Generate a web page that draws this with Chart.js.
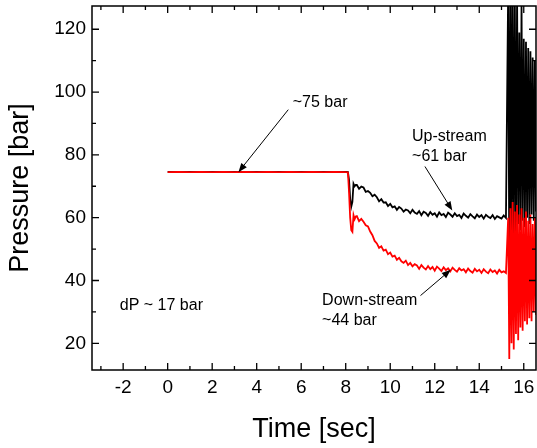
<!DOCTYPE html>
<html>
<head>
<meta charset="utf-8">
<script src="https://cdn.jsdelivr.net/npm/chart.js@4"></script>
<style>
  html, body { margin: 0; padding: 0; background: #fff; }
  #wrap { width: 537px; height: 448px; }
</style>
</head>
<body>
<div id="wrap"><canvas id="chart-1" width="537" height="448"></canvas></div>
<script>
// time axis shared by both pressure traces [sec]
const timeSec = [
  0, 0.5, 1.0, 1.5, 2.0, 2.5, 3.0, 3.5, 4.0, 4.5, 5.0, 5.5, 6.0, 6.5, 7.0, 7.5, 8.0, 8.1,
  8.15, 8.2, 8.25, 8.3, 8.35, 8.4, 8.45,
  8.5, 8.6, 8.7, 8.8, 8.9, 9.0, 9.1, 9.2, 9.3, 9.4, 9.5, 9.6, 9.7, 9.8, 9.9,
  10.0, 10.1, 10.2, 10.3, 10.4, 10.5, 10.6, 10.7, 10.8, 10.9,
  11.0, 11.1, 11.2, 11.3, 11.4, 11.5, 11.6, 11.7, 11.8, 11.9,
  12.0, 12.1, 12.2, 12.3, 12.4, 12.5, 12.6, 12.7, 12.8, 12.9,
  13.0, 13.1, 13.2, 13.3, 13.4, 13.5, 13.6, 13.7, 13.8, 13.9,
  14.0, 14.1, 14.2, 14.3, 14.4, 14.5, 14.6, 14.7, 14.8, 14.9,
  15.0, 15.1, 15.2,
  15.3, 15.35, 15.4, 15.45, 15.5, 15.55, 15.6, 15.65, 15.7, 15.75,
  15.8, 15.85, 15.9, 15.95, 16.0, 16.05, 16.1, 16.15, 16.2, 16.25,
  16.3, 16.35, 16.4, 16.45, 16.5, 16.55, 16.6
];

// up-stream pressure [bar]
const upStream = [
  74.6, 74.5, 74.6, 74.5, 74.6, 74.5, 74.6, 74.5, 74.6, 74.5, 74.6, 74.5, 74.6, 74.5, 74.6, 74.5, 74.6, 74.5,
  72.0, 66.0, 63.5, 65.0, 70.8, 70.0, 70.4,
  70.4, 69.2, 69.9, 69.6, 68.2, 68.5, 67.9, 66.8, 67.3, 66.5, 65.2, 65.9, 64.8, 64.9, 63.7,
  64.4, 63.3, 63.6, 62.5, 63.4, 62.9, 61.9, 62.6, 62.3, 61.4,
  62.5, 61.6, 61.2, 62.1, 60.8, 61.9, 61.5, 60.6, 61.8, 60.9,
  61.4, 60.3, 61.7, 60.8, 61.2, 60.2, 61.6, 61.0, 60.3, 61.4,
  60.5, 60.9, 59.9, 61.3, 60.6, 60.0, 61.1, 60.4, 59.8, 61.0,
  60.2, 60.8, 59.7, 60.9, 60.3, 59.9, 60.8, 59.6, 60.5, 60.1,
  59.7, 60.7, 59.9,
  133, 44, 140, 48, 136, 52, 129, 55, 131, 58,
  119, 56, 128, 59, 117, 57, 116, 60, 114, 58,
  113, 61, 111, 59, 110, 62, 109
];

// down-stream pressure [bar]
const downStream = [
  74.5, 74.6, 74.5, 74.6, 74.5, 74.6, 74.5, 74.6, 74.5, 74.6, 74.5, 74.6, 74.5, 74.6, 74.5, 74.6, 74.5, 74.4,
  68.0, 60.0, 56.0, 55.5, 60.8, 59.5, 60.4,
  60.5, 58.9, 59.6, 58.7, 57.6, 57.2, 55.6, 54.4, 52.6, 51.8, 50.4, 50.9, 49.5, 49.8, 48.4,
  48.9, 47.6, 47.9, 46.6, 47.2, 46.1, 45.6, 46.3, 44.9, 45.6,
  44.5, 45.2, 44.8, 43.7, 44.9, 44.1, 43.5, 44.6, 43.6, 44.3,
  43.1, 44.4, 43.8, 43.0, 44.2, 43.3, 43.9, 42.9, 44.1, 43.4,
  42.8, 43.9, 43.2, 43.6, 42.6, 43.8, 43.0, 42.5, 43.7, 42.9,
  43.4, 42.4, 43.6, 42.8, 42.3, 43.5, 42.7, 43.2, 42.2, 43.4,
  42.6, 42.9, 42.4,
  60, 15, 63, 20, 65, 18, 62, 23, 64, 21,
  61, 25, 63, 24, 60, 27, 62, 26, 59, 28,
  61, 27, 58, 30, 60, 29, 57
];

// axis ticks
const xTicks = [-2, 0, 2, 4, 6, 8, 10, 12, 14, 16];
const xMinorTicks = [-3, -1, 1, 3, 5, 7, 9, 11, 13, 15];
const yTicks = [20, 40, 60, 80, 100, 120];
const yMinorTicks = [30, 50, 70, 90, 110];

// text notes with arrows (data coordinates)
const notes = [
  { lines: ['~75 bar'], x: 5.62, y: 96.6, tail: [5.42, 94.4], head: [3.18, 74.5] },
  { lines: ['Up-stream', '~61 bar'], x: 10.98, y: 85.9, tail: [11.56, 76.3], head: [12.79, 62.3] },
  { lines: ['Down-stream', '~44 bar'], x: 6.94, y: 33.6, tail: [11.36, 35.2], head: [12.72, 43.4] },
  { lines: ['dP ~ 17 bar'], x: -2.15, y: 32.0 }
];

const FONT = "'Liberation Sans', Arial, sans-serif";

// closed frame, inward ticks on all sides, tick labels
const frameTicks = {
  id: 'frameTicks',
  afterDraw(chart) {
    const { ctx, chartArea: a, scales: { x, y } } = chart;
    ctx.save();
    ctx.strokeStyle = '#000';
    ctx.lineWidth = 1.5;
    ctx.strokeRect(a.left, a.top, a.right - a.left, a.bottom - a.top);
    ctx.lineWidth = 1.3;
    ctx.beginPath();
    const xt = (v, len) => {
      const px = x.getPixelForValue(v);
      ctx.moveTo(px, a.bottom); ctx.lineTo(px, a.bottom - len);
      ctx.moveTo(px, a.top); ctx.lineTo(px, a.top + len);
    };
    const yt = (v, len) => {
      const py = y.getPixelForValue(v);
      ctx.moveTo(a.left, py); ctx.lineTo(a.left + len, py);
      ctx.moveTo(a.right, py); ctx.lineTo(a.right - len, py);
    };
    xTicks.forEach(v => xt(v, 7));
    xMinorTicks.forEach(v => xt(v, 4));
    yTicks.forEach(v => yt(v, 7));
    yMinorTicks.forEach(v => yt(v, 4));
    ctx.stroke();

    ctx.fillStyle = '#000';
    ctx.font = '19px ' + FONT;
    ctx.textBaseline = 'middle';
    ctx.textAlign = 'center';
    xTicks.forEach(v => ctx.fillText(String(v), x.getPixelForValue(v), a.bottom + 18));
    ctx.textAlign = 'right';
    yTicks.forEach(v => ctx.fillText(String(v), a.left - 6, y.getPixelForValue(v)));
    ctx.restore();
  }
};

const noteLayer = {
  id: 'noteLayer',
  afterDraw(chart) {
    const { ctx, scales: { x, y } } = chart;
    ctx.save();
    ctx.fillStyle = '#000';
    ctx.strokeStyle = '#000';
    ctx.font = '16px ' + FONT;
    ctx.textBaseline = 'middle';
    notes.forEach(n => {
      const px = x.getPixelForValue(n.x);
      const py = y.getPixelForValue(n.y);
      n.lines.forEach((t, i) => ctx.fillText(t, px, py + i * 20.5));
      if (n.head) {
        const x0 = x.getPixelForValue(n.tail[0]), y0 = y.getPixelForValue(n.tail[1]);
        const x1 = x.getPixelForValue(n.head[0]), y1 = y.getPixelForValue(n.head[1]);
        const ang = Math.atan2(y1 - y0, x1 - x0);
        ctx.lineWidth = 1;
        ctx.beginPath();
        ctx.moveTo(x0, y0);
        ctx.lineTo(x1 - 6 * Math.cos(ang), y1 - 6 * Math.sin(ang));
        ctx.stroke();
        ctx.beginPath();
        ctx.moveTo(x1, y1);
        ctx.lineTo(x1 - 9 * Math.cos(ang) + 3.5 * Math.sin(ang), y1 - 9 * Math.sin(ang) - 3.5 * Math.cos(ang));
        ctx.lineTo(x1 - 9 * Math.cos(ang) - 3.5 * Math.sin(ang), y1 - 9 * Math.sin(ang) + 3.5 * Math.cos(ang));
        ctx.closePath();
        ctx.fill();
      }
    });
    ctx.restore();
  }
};

const ctx_1 = document.getElementById('chart-1').getContext('2d');

new Chart(ctx_1, {
  type: 'line',
  data: {
    datasets: [{
      label: 'Down-stream',
      data: timeSec.map((t, i) => ({ x: t, y: downStream[i] })),
      borderColor: '#ff0000',
      borderWidth: 1.8,
      pointRadius: 0,
      tension: 0,
    }, {
      label: 'Up-stream',
      data: timeSec.map((t, i) => ({ x: t, y: upStream[i] })),
      borderColor: '#000000',
      borderWidth: 1.8,
      pointRadius: 0,
      tension: 0,
    }]
  },
  options: {
    responsive: false,
    animation: false,
    layout: { padding: { top: 6, right: 1, left: 0, bottom: 0 } },
    plugins: {
      legend: { display: false },
      tooltip: { enabled: false }
    },
    scales: {
      x: {
        type: 'linear',
        min: -3.4,
        max: 16.55,
        afterFit: s => { s.height = 78; },
        grid: { display: false, drawTicks: false },
        border: { display: false },
        ticks: { display: false },
        title: { display: true, text: 'Time [sec]', color: '#000', font: { family: FONT, size: 27 }, padding: { bottom: 2 } }
      },
      y: {
        type: 'linear',
        min: 11.5,
        max: 127.4,
        afterFit: s => { s.width = 92; },
        grid: { display: false, drawTicks: false },
        border: { display: false },
        ticks: { display: false },
        title: { display: true, text: 'Pressure [bar]', color: '#000', font: { family: FONT, size: 27 }, padding: { top: 4 } }
      }
    }
  },
  plugins: [frameTicks, noteLayer]
});
</script>
</body>
</html>
